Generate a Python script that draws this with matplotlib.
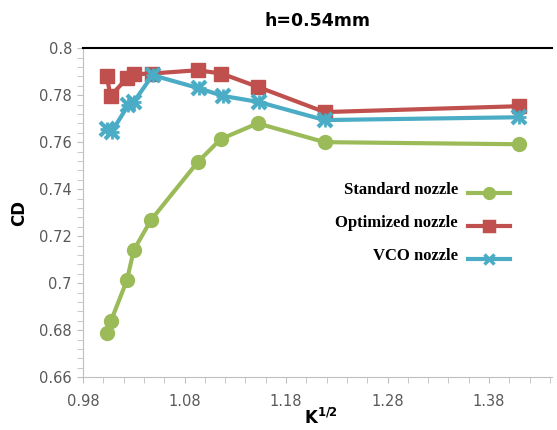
import numpy as np
import matplotlib.pyplot as plt
from matplotlib.ticker import MultipleLocator, FixedLocator, FormatStrFormatter
from matplotlib.lines import Line2D

# data
x_std = [1.0036, 1.0075, 1.0233, 1.030, 1.0469, 1.093, 1.1157, 1.152, 1.218, 1.4097]
y_std = [0.6787, 0.6838, 0.7013, 0.714, 0.7268, 0.7515, 0.7613, 0.768, 0.760, 0.7591]

x_opt = [1.0033, 1.0072, 1.023, 1.030, 1.0476, 1.0928, 1.1164, 1.1524, 1.218, 1.4097]
y_opt = [0.7882, 0.7796, 0.7871, 0.7889, 0.7892, 0.7906, 0.7892, 0.7835, 0.7728, 0.7753]

x_vco = [1.0033, 1.0082, 1.0245, 1.030, 1.0485, 1.0945, 1.1175, 1.153, 1.218, 1.4097]
y_vco = [0.7658, 0.7644, 0.7757, 0.7771, 0.7885, 0.7829, 0.7797, 0.7771, 0.7694, 0.7706]

x_ticks = [0.98, 1.08, 1.18, 1.28, 1.38]
names = ['Standard nozzle', 'Optimized nozzle', 'VCO nozzle']
c_std, c_opt, c_vco = '#9BBB59', '#C0504D', '#4BACC6'

fig = plt.figure(figsize=(5.57, 4.3), dpi=100, facecolor='w')
ax = fig.add_axes([0.149, 0.123, 0.842, 0.765])

ax.plot(x_std, y_std, '-o', color=c_std, lw=3, ms=10, zorder=3)
ax.plot(x_opt, y_opt, '-s', color=c_opt, lw=3, ms=9.5, zorder=3)
ax.plot(x_vco, y_vco, '-x', color=c_vco, lw=3, ms=10, mew=3, zorder=4)
ax.plot(x_vco, y_vco, '+', color=c_vco, ms=10, mew=2, zorder=4)

ax.set_xlim(0.98, 1.442)
ax.set_ylim(0.66, 0.80)
ax.xaxis.set_major_locator(FixedLocator(x_ticks))
ax.xaxis.set_minor_locator(FixedLocator(np.arange(0.98, 1.445, 0.02)))
ax.yaxis.set_major_locator(MultipleLocator(0.02))
ax.yaxis.set_minor_locator(MultipleLocator(0.004))
ax.xaxis.set_major_formatter(FormatStrFormatter('%.2f'))
ax.yaxis.set_major_formatter(plt.FuncFormatter(lambda v, p: ('%.2f' % v).rstrip('0')))

ax.spines['right'].set_visible(False)
ax.spines['top'].set_color('black')
ax.spines['top'].set_linewidth(1.5)
ax.spines['left'].set_color('#BFBFBF')
ax.spines['bottom'].set_color('#BFBFBF')
ax.tick_params(which='both', direction='out', length=4.5, color='#BFBFBF',
               labelcolor='#595959', labelsize=10.5)
ax.tick_params(axis='x', pad=8)

ax.set_title('h=0.54mm', fontsize=12.5, fontweight='bold', pad=16)
ax.set_ylabel('CD', fontsize=12, fontweight='bold', labelpad=8)
fig.text(0.545, 0.004, r'K$^{\mathbf{1/2}}$', fontsize=12, fontweight='bold', ha='left', va='bottom')

# legend built by hand: text on the left, line sample on the right
leg_y = [0.558, 0.482, 0.405]
cols = [c_std, c_opt, c_vco]
marks = ['o', 's', 'x']
for nm, yy, cc, mk in zip(names, leg_y, cols, marks):
    fig.text(0.822, yy, nm, family='Liberation Serif', fontsize=12, fontweight='bold',
             ha='right', va='center')
    fig.add_artist(Line2D([0.84, 0.916], [yy - 0.008, yy - 0.008], color=cc, lw=3,
                          transform=fig.transFigure))
    fig.add_artist(Line2D([0.878], [yy - 0.008], marker=mk, color=cc, ms=7, mew=2.5,
                          transform=fig.transFigure))

fig.savefig('out.png', dpi=100, facecolor='w')
